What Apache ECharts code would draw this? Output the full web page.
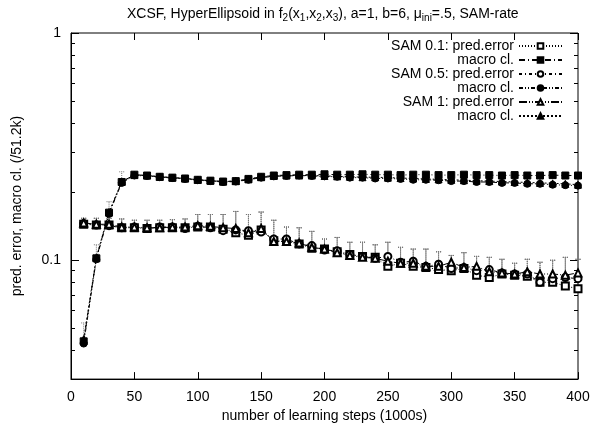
<!DOCTYPE html>
<html>
<head>
<meta charset="utf-8">
<script src="https://cdn.jsdelivr.net/npm/echarts@6/dist/echarts.min.js"></script>
<style>
  html, body { margin: 0; padding: 0; background: #fff; }
  #chart { width: 593px; height: 428px; }
</style>
</head>
<body>
<div id="chart"></div>
<script>
// XCSF HyperEllipsoid, SAM-rate comparison (log y)
const steps = [10, 20, 30, 40, 50, 60, 70, 80, 90, 100, 110, 120, 130, 140, 150, 160, 170, 180, 190, 200,
  210, 220, 230, 240, 250, 260, 270, 280, 290, 300, 310, 320, 330, 340, 350, 360, 370, 380, 390, 400];

const pred01 = [0.144, 0.143, 0.143, 0.139, 0.139, 0.138, 0.139, 0.139, 0.139, 0.140, 0.140, 0.137, 0.132, 0.129, 0.136, 0.122, 0.121, 0.118, 0.113, 0.112,
  0.109, 0.106, 0.104, 0.103, 0.094, 0.097, 0.094, 0.093, 0.091, 0.090, 0.092, 0.086, 0.084, 0.087, 0.086, 0.085, 0.080, 0.080, 0.077, 0.075];
const macro01 = [0.044, 0.102, 0.162, 0.221, 0.238, 0.236, 0.233, 0.231, 0.229, 0.226, 0.224, 0.222, 0.223, 0.228, 0.233, 0.236, 0.237, 0.238, 0.238, 0.239,
  0.238, 0.238, 0.239, 0.238, 0.238, 0.237, 0.238, 0.238, 0.237, 0.237, 0.238, 0.237, 0.237, 0.236, 0.237, 0.236, 0.236, 0.237, 0.236, 0.236];
const pred05 = [0.145, 0.143, 0.142, 0.139, 0.140, 0.138, 0.140, 0.140, 0.138, 0.141, 0.139, 0.135, 0.136, 0.135, 0.133, 0.124, 0.124, 0.118, 0.116, 0.111,
  0.110, 0.106, 0.104, 0.102, 0.104, 0.098, 0.099, 0.094, 0.096, 0.092, 0.093, 0.090, 0.091, 0.088, 0.087, 0.087, 0.080, 0.083, 0.084, 0.083];
const macro05 = [0.043, 0.101, 0.160, 0.219, 0.236, 0.235, 0.232, 0.230, 0.228, 0.225, 0.223, 0.221, 0.222, 0.226, 0.231, 0.234, 0.235, 0.236, 0.235, 0.234,
  0.233, 0.231, 0.231, 0.229, 0.229, 0.228, 0.226, 0.226, 0.225, 0.223, 0.223, 0.221, 0.221, 0.219, 0.219, 0.217, 0.217, 0.215, 0.214, 0.213];
const pred1 = [0.146, 0.144, 0.144, 0.140, 0.140, 0.139, 0.139, 0.140, 0.140, 0.142, 0.141, 0.139, 0.138, 0.132, 0.138, 0.121, 0.121, 0.119, 0.114, 0.112,
  0.108, 0.105, 0.103, 0.102, 0.099, 0.097, 0.097, 0.094, 0.094, 0.098, 0.093, 0.094, 0.089, 0.088, 0.087, 0.089, 0.087, 0.087, 0.086, 0.088];
const macro1 = [0.045, 0.103, 0.163, 0.222, 0.237, 0.236, 0.233, 0.231, 0.229, 0.226, 0.224, 0.222, 0.223, 0.227, 0.232, 0.235, 0.236, 0.236, 0.236, 0.235,
  0.234, 0.233, 0.232, 0.232, 0.231, 0.230, 0.229, 0.228, 0.227, 0.226, 0.225, 0.224, 0.223, 0.222, 0.221, 0.220, 0.219, 0.218, 0.217, 0.215];

// upper ends of the error bars
const predErrTop = [0.153, 0.153, 0.153, 0.152, 0.150, 0.150, 0.150, 0.151, 0.152, 0.159, 0.159, 0.159, 0.164, 0.159, 0.163, 0.150, 0.140, 0.139, 0.134, 0.124,
  0.126, 0.120, 0.120, 0.117, 0.120, 0.114, 0.112, 0.112, 0.109, 0.105, 0.108, 0.104, 0.103, 0.101, 0.097, 0.101, 0.098, 0.100, 0.103, 0.101];
const macroErrTop = [0.053, 0.117, 0.181, 0.245];

const yMajor = [0.1, 1];
const yMinor = [0.04, 0.05, 0.06, 0.07, 0.08, 0.09, 0.2, 0.3, 0.4, 0.5, 0.6, 0.7, 0.8, 0.9];

const names = ['SAM 0.1: pred.error', 'macro cl.#1', 'SAM 0.5: pred.error', 'macro cl.#2', 'SAM 1: pred.error', 'macro cl.#3'];
const values = [pred01, macro01, pred05, macro05, pred1, macro1];
const symbols = ['emptyRect', 'rect', 'emptyCircle', 'circle', 'emptyTriangle', 'triangle'];
const dashes = [[1, 2], [6, 3, 1, 3], [3, 3, 1, 3], [4, 2, 1, 2, 1, 2], [8, 2, 1, 2, 1, 2], [2, 2]];

const font = 'Liberation Sans, Arial, sans-serif';
const fs = 14;

function pairs(ys) {
  return steps.map((x, i) => [x, ys[i]]);
}

const lineSeries = names.map((name, k) => ({
  name: name,
  type: 'line',
  data: pairs(values[k]),
  symbol: symbols[k],
  symbolSize: 7,
  z: 3,
  itemStyle: { color: '#000', borderColor: '#000', borderWidth: 1 },
  lineStyle: { color: '#000', width: 1, type: dashes[k] },
  emphasis: { disabled: true }
}));

const errData = [];
[pred01, pred05, pred1].forEach(arr => {
  steps.forEach((x, i) => errData.push([x, arr[i], predErrTop[i]]));
});
macroErrTop.forEach((top, i) => errData.push([steps[i], macro01[i], top]));

const errSeries = {
  type: 'custom',
  data: errData,
  encode: { x: 0, y: [1, 2] },
  z: 2,
  silent: true,
  renderItem: (params, api) => {
    const lo = api.coord([api.value(0), api.value(1)]);
    const hi = api.coord([api.value(0), api.value(2)]);
    const style = { stroke: '#777', lineWidth: 1, lineDash: [1, 1] };
    return {
      type: 'group',
      children: [
        { type: 'line', shape: { x1: lo[0], y1: lo[1], x2: hi[0], y2: hi[1] }, style: style },
        { type: 'line', shape: { x1: hi[0] - 2.5, y1: hi[1], x2: hi[0] + 2.5, y2: hi[1] }, style: style }
      ]
    };
  }
};

function yAxis(pos, ticks, len, labels) {
  return {
    type: 'log',
    position: pos,
    min: 0.03,
    max: 1,
    axisLine: { show: labels, lineStyle: { color: '#000', width: 1 } },
    axisTick: { show: true, inside: true, length: len, customValues: ticks, lineStyle: { color: '#000' } },
    axisLabel: {
      show: labels,
      customValues: yMajor,
      margin: 10,
      color: '#000',
      fontFamily: font,
      fontSize: fs,
      formatter: v => String(+(+v).toPrecision(2))
    },
    splitLine: { show: false },
    minorTick: { show: false }
  };
}

const axisY = [
  yAxis('left', yMajor, 8, true),
  yAxis('left', yMinor, 4, false),
  yAxis('right', yMajor, 8, false),
  yAxis('right', yMinor, 4, false)
];
axisY[0].name = 'pred. error, macro cl. (/51.2k)';
axisY[0].nameLocation = 'middle';
axisY[0].nameRotate = 90;
axisY[0].nameGap = 47;
axisY[0].nameTextStyle = { color: '#000', fontFamily: font, fontSize: fs };

const option = {
  animation: false,
  backgroundColor: '#fff',
  title: {
    text: '{n|XCSF, HyperEllipsoid in f}{s|2}{n|(x}{s|1}{n|,x}{s|2}{n|,x}{s|3}{n|), a=1, b=6, \u03bc}{s|ini}{n|=.5, SAM-rate}',
    left: 127,
    top: 6,
    padding: 0,
    textStyle: {
      fontWeight: 'normal',
      rich: {
        n: { fontFamily: font, fontSize: fs, fontWeight: 'normal', color: '#000', lineHeight: 17 },
        s: { fontFamily: font, fontSize: 10, fontWeight: 'normal', color: '#000', lineHeight: 8, verticalAlign: 'bottom' }
      }
    }
  },
  legend: {
    data: names,
    orient: 'vertical',
    align: 'right',
    right: 30,
    top: 39,
    padding: 0,
    itemWidth: 43,
    itemHeight: 7,
    itemGap: 0,
    selectedMode: false,
    formatter: name => name.replace(/#\d$/, ''),
    textStyle: { color: '#000', fontFamily: font, fontSize: fs }
  },
  grid: {
    left: 71,
    right: 15,
    top: 33,
    bottom: 48,
    show: true,
    borderColor: '#000',
    borderWidth: 1
  },
  xAxis: [
    {
      type: 'value',
      position: 'bottom',
      min: 0,
      max: 400,
      interval: 50,
      name: 'number of learning steps (1000s)',
      nameLocation: 'middle',
      nameGap: 24,
      nameTextStyle: { color: '#000', fontFamily: font, fontSize: fs },
      axisLine: { lineStyle: { color: '#000', width: 1 } },
      axisTick: { inside: true, length: 7, lineStyle: { color: '#000' } },
      axisLabel: { margin: 11, color: '#000', fontFamily: font, fontSize: fs },
      splitLine: { show: false }
    },
    {
      type: 'value',
      position: 'top',
      min: 0,
      max: 400,
      interval: 50,
      axisLine: { show: false },
      axisTick: { inside: true, length: 7, lineStyle: { color: '#000' } },
      axisLabel: { show: false },
      splitLine: { show: false }
    }
  ],
  yAxis: axisY,
  series: [errSeries].concat(lineSeries)
};

const chart = echarts.init(document.getElementById('chart'));
chart.setOption(option);
window.addEventListener('resize', () => chart.resize());
</script>
</body>
</html>
